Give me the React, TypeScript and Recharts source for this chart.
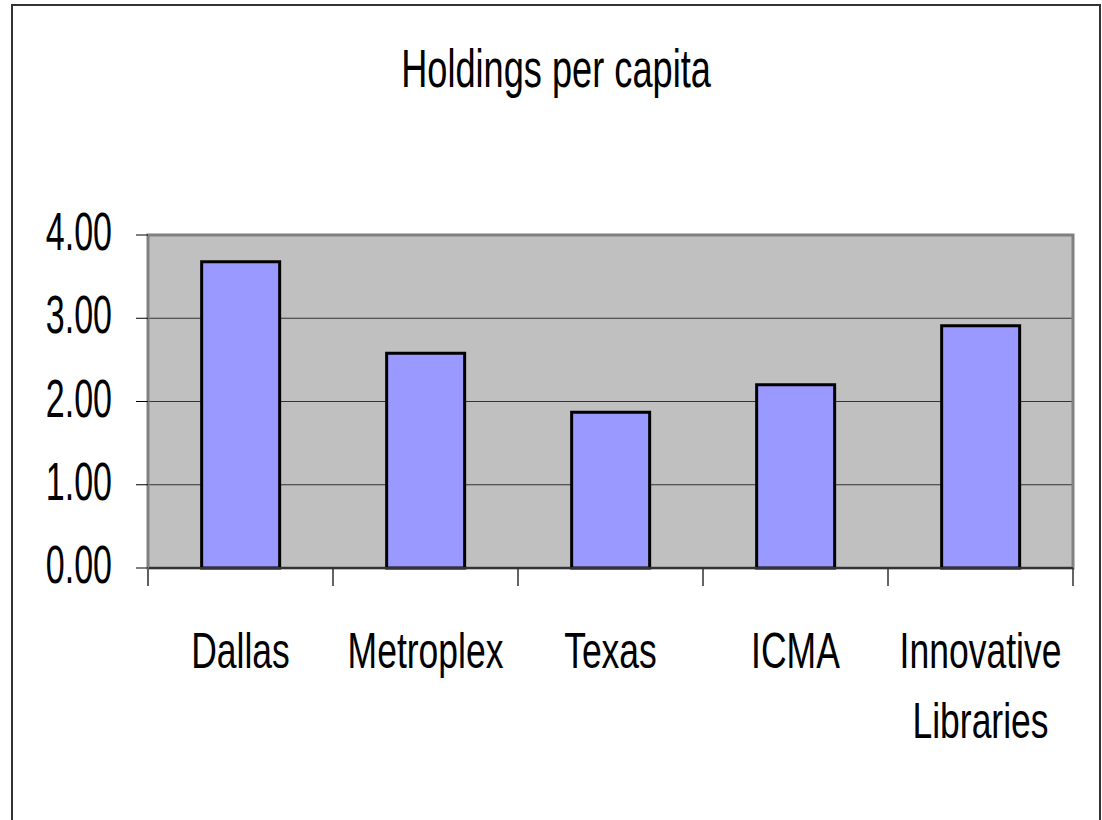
import React from 'react';
import {
  BarChart,
  Bar,
  XAxis,
  YAxis,
  CartesianGrid,
  ReferenceArea,
} from 'recharts';

const categories = ['Dallas', 'Metroplex', 'Texas', 'ICMA', 'Innovative Libraries'];
const holdings = [3.68, 2.58, 1.87, 2.2, 2.91];
const yTicks = [0, 1, 2, 3, 4];

const chartData = categories.map((name, i) => ({ name, holdings: holdings[i] }));

const FONT = '"Liberation Sans", Arial, sans-serif';

const CategoryTick = (props: any) => {
  const { x, y, payload, index, width, visibleTicksCount } = props;
  const band = width && visibleTicksCount ? Number(width) / visibleTicksCount : 0;
  const lines = String(payload.value).split(' ');
  return (
    <g>
      {index === 0 && (
        <line x1={x - band / 2} x2={x - band / 2} y1={y} y2={y + 18} stroke="#606060" strokeWidth={2} />
      )}
      <line x1={x + band / 2} x2={x + band / 2} y1={y} y2={y + 18} stroke="#303030" strokeWidth={1.5} />
      {lines.map((line, i) => (
        <text
          key={line}
          transform={`translate(${x},${y + 100 + i * 70}) scale(0.71,1)`}
          textAnchor="middle"
          fontSize={50}
          fontFamily={FONT}
          fill="#000"
        >
          {line}
        </text>
      ))}
    </g>
  );
};

const ValueTick = (props: any) => {
  const { x, y, payload } = props;
  return (
    <text
      transform={`translate(${x},${y + 15}) scale(0.63,1)`}
      textAnchor="end"
      fontSize={54}
      fontFamily={FONT}
      fill="#000"
    >
      {Number(payload.value).toFixed(2)}
    </text>
  );
};

const App: React.FC = () => {
  return (
    <div
      style={{
        position: 'absolute',
        left: 0,
        top: 0,
        width: 1102,
        height: 820,
        background: '#fff',
        overflow: 'hidden',
      }}
    >
      <div
        style={{
          position: 'absolute',
          left: 11,
          top: 4,
          width: 1086,
          height: 900,
          border: '2px solid #333',
        }}
      />
      <svg width={1102} height={120} style={{ position: 'absolute', left: 0, top: 0 }}>
        <text
          transform="translate(556,87) scale(0.67,1)"
          textAnchor="middle"
          fontSize={54}
          fontFamily={FONT}
          fill="#000"
        >
          Holdings per capita
        </text>
      </svg>
      <div style={{ position: 'absolute', left: 0, top: 0 }}>
        <BarChart
          width={1102}
          height={820}
          data={chartData}
          margin={{ top: 235, right: 29, bottom: 152, left: 8 }}
          barCategoryGap="29%"
        >
          <CartesianGrid
            horizontal
            vertical={false}
            fill="#c0c0c0"
            fillOpacity={1}
            stroke="#333"
            strokeWidth={1}
          />
          <ReferenceArea
            y1={0}
            y2={4}
            fill="none"
            stroke="#808080"
            strokeWidth={3}
            ifOverflow="visible"
          />
          <XAxis
            dataKey="name"
            height={100}
            tickSize={0}
            tickMargin={0}
            tickLine={false}
            axisLine={{ stroke: '#333', strokeWidth: 2 }}
            tick={<CategoryTick />}
            interval={0}
          />
          <YAxis
            width={140}
            domain={[0, 4]}
            ticks={yTicks}
            tickSize={12}
            tickMargin={24}
            tickLine={{ stroke: '#000', strokeWidth: 1 }}
            axisLine={{ stroke: '#808080', strokeWidth: 2 }}
            tick={<ValueTick />}
            interval={0}
          />
          <Bar
            dataKey="holdings"
            fill="#9999ff"
            stroke="#000"
            strokeWidth={3}
            isAnimationActive={false}
          />
        </BarChart>
      </div>
    </div>
  );
};

export default App;
